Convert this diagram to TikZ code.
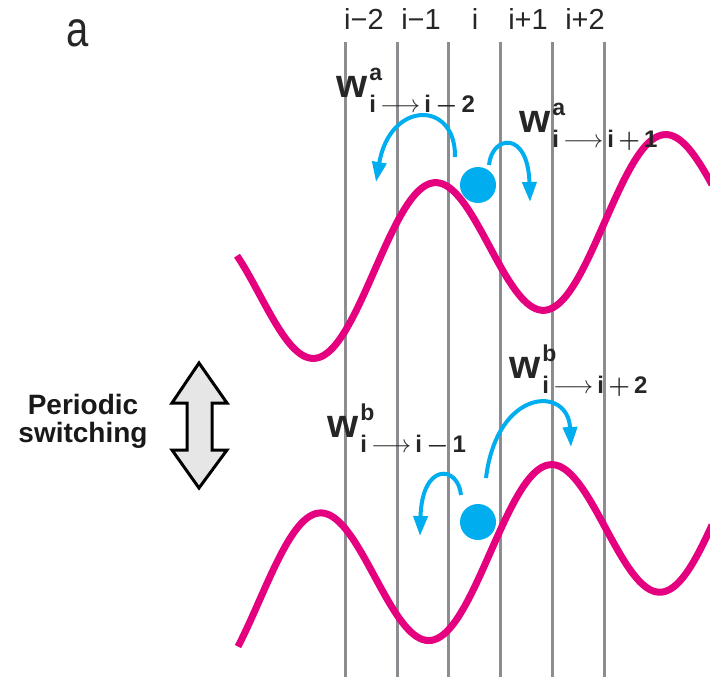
\documentclass[tikz,border=0pt]{standalone}
\usepackage{fontspec}
\setmainfont{Liberation Sans}
\usepackage{amsmath}
\usetikzlibrary{arrows.meta}
\definecolor{magenta}{RGB}{228,0,127}
\definecolor{cyan}{RGB}{0,174,239}
\definecolor{gray}{RGB}{140,140,145}
\definecolor{lightgray}{RGB}{230,230,230}
\newcommand{\jump}[2]{\textbf{w}\kern2pt\rlap{\raisebox{17pt}{\fontsize{23}{23}\selectfont\bfseries #1}}\raisebox{-15pt}{\fontsize{24}{24}\selectfont\bfseries #2}}

\begin{document}
\begin{tikzpicture}[x=1pt, y=-1pt,
    site/.style={gray, line width=3pt},
    wave/.style={magenta, line width=7pt},
    hop/.style={cyan, line width=4pt, -{Triangle[length=20pt,width=14pt]}},
    ball/.style={circle, fill=cyan, inner sep=0pt, minimum size=36pt},
    rate/.style={anchor=base west, inner sep=0pt, text=black!85, font=\fontsize{40}{40}\selectfont}]
    \useasboundingbox (0,0) rectangle (710,677);

    \node[font=\fontsize{50}{50}\selectfont, xscale=0.8, anchor=base, text=black!85] (panel) at (78,47) {a};

    \foreach \x in {345,397,448,500,552,604} {
        \draw[site] (\x,42) -- (\x,677);
    }
    \foreach \x/\t [count=\n] in {364/i−2, 421/i−1, 475/i, 528/i+1, 585/i+2} {
        \node[font=\fontsize{29}{29}\selectfont, text=black!85, anchor=base, inner sep=0pt] (site\n) at (\x,30) {\t};
    }

    \draw[wave] plot[domain=237:712, samples=160, smooth] (\x, {258.5 - 0.209*(\x-432) - 75.5*cos((\x-432)*1.5652)});
    \draw[wave] plot[domain=238:712, samples=160, smooth] (\x, {540.5 - 0.209*(\x-548) - 75.5*cos((\x-548)*1.5584)});

    \node[ball] (pa) at (478,185) {};
    \node[ball] (pb) at (478,522) {};

    \coordinate (ja1) at (455,157);
    \coordinate (ja1e) at (376,182);
    \coordinate (ja2) at (489,165);
    \coordinate (ja2e) at (530,202);
    \coordinate (jb1) at (461,495);
    \coordinate (jb1e) at (420,536);
    \coordinate (jb2) at (486,478);
    \coordinate (jb2e) at (571,447);
    \draw[hop] (ja1) .. controls (456,100) and (390,100) .. (ja1e);
    \draw[hop] (ja2) .. controls (492,135) and (528,130) .. (ja2e);
    \draw[hop] (jb1) .. controls (458,465) and (422,462) .. (jb1e);
    \draw[hop] (jb2) .. controls (497,388) and (568,385) .. (jb2e);

    \node[rate] (wa1) at (336,97) {\jump{a}{i$\,\longrightarrow\,$i$\,\boldsymbol{-}\,$2}};
    \node[rate] (wa2) at (519,132) {\jump{a}{i$\,\longrightarrow\,$i$\,\boldsymbol{+}\,$1}};
    \node[rate] (wb1) at (327,437) {\jump{b}{i$\,\longrightarrow\,$i$\,\boldsymbol{-}\,$1}};
    \node[rate] (wb2) at (509,378) {\jump{b}{i$\,\longrightarrow\,$i$\,\boldsymbol{+}\,$2}};

    \draw[line width=3pt, fill=lightgray, line join=miter] (199,363) -- (227,403) -- (212,403) -- (212,450) -- (227,450) -- (199,488) -- (172,450) -- (187,450) -- (187,403) -- (172,403) -- cycle;
    \node[font=\fontsize{28}{28}\selectfont\bfseries, align=center, text=black!90] (switch) at (83,421) {Periodic\\switching};
\end{tikzpicture}
\end{document}
